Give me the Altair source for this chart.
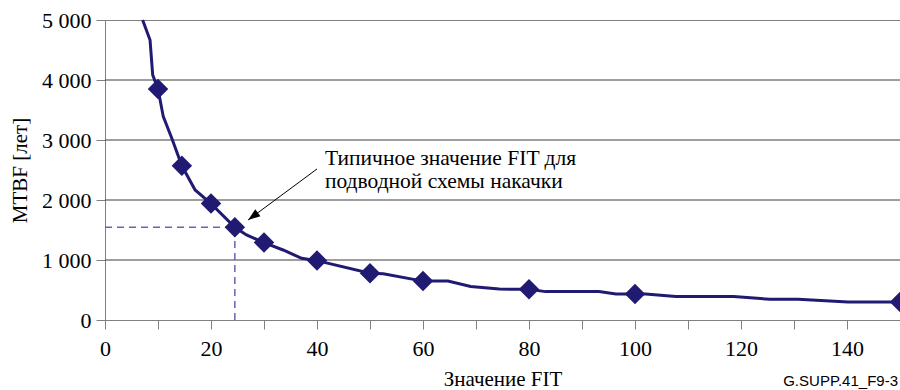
import altair as alt
import pandas as pd

# MTBF curve versus FIT value (vertices of the plotted line)
curve_fit = [7.1, 8.5, 9.0, 10, 11.0, 12.6, 14.5, 17.0, 20, 24.5, 26.7, 30, 33.6, 37.1,
             40, 50, 52.5, 60, 64.7, 69, 74.4, 80, 83.1, 93.2, 96.4, 100, 102, 107.7,
             118.6, 125.4, 130.8, 140.2, 148.1, 150]
curve_mtbf = [5000, 4667, 4083, 3850, 3389, 3028, 2570, 2167, 1940, 1545, 1417, 1290, 1167, 1028,
              990, 780, 769, 648, 648, 560, 516, 511, 473, 473, 434, 434, 434, 390,
              390, 346, 346, 302, 302, 302]

# Marked points
marker_fit = [10, 14.5, 20, 24.5, 30, 40, 50, 60, 80, 100, 150]
marker_mtbf = [3850, 2570, 1940, 1545, 1290, 990, 780, 648, 511, 434, 302]

# Typical FIT value for a submerged pump scheme
typical_fit = 24.5
typical_mtbf = 1545

y_grid = [1000, 2000, 3000, 4000]
y_ticks = [0, 1000, 2000, 3000, 4000, 5000]
x_ticks = list(range(0, 151, 10))

note_lines = ["Типичное значение FIT для", "подводной схемы накачки"]
note_fit = 41.5
note_mtbf = [2583, 2200]
arrow_start = (40.0, 2517)
arrow_tip = (27.0, 1667)

source_tag = "G.SUPP.41_F9-3"

LINE_COLOR = "#211a72"
DASH_COLOR = "#6b62b5"
AXIS_GRAY = "#808080"
SERIF = "Liberation Serif"

x_scale = alt.Scale(domain=[0, 150], nice=False, zero=False)
y_scale = alt.Scale(domain=[0, 5000], nice=False)

curve_df = pd.DataFrame({"fit": curve_fit, "mtbf": curve_mtbf, "order": range(len(curve_fit))})
marker_df = pd.DataFrame({"fit": marker_fit, "mtbf": marker_mtbf})
grid_df = pd.DataFrame({"x": [0] * len(y_grid), "x2": [150] * len(y_grid), "mtbf": y_grid})
dash_df = pd.DataFrame({
    "x": [0, typical_fit], "x2": [typical_fit, typical_fit],
    "y": [typical_mtbf, 0], "y2": [typical_mtbf, typical_mtbf],
})
arrow_df = pd.DataFrame({"x": [arrow_start[0]], "y": [arrow_start[1]],
                         "x2": [arrow_tip[0]], "y2": [arrow_tip[1]]})
tip_df = pd.DataFrame({"x": [arrow_tip[0]], "y": [arrow_tip[1]]})
note_df = pd.DataFrame({"x": [note_fit] * len(note_lines), "y": note_mtbf, "text": note_lines})
tag_df = pd.DataFrame({"text": [source_tag]})

x_axis = alt.Axis(
    values=x_ticks,
    labelExpr="datum.value % 20 === 0 ? datum.label : ''",
    grid=False, tickSize=9, tickColor=AXIS_GRAY, domainColor=AXIS_GRAY,
    labelFont=SERIF, labelFontSize=22, labelColor="black",
    labelBaseline="alphabetic", labelPadding=26, labelFlush=False, labelOverlap=False,
    title="Значение FIT", titleFont=SERIF, titleFontSize=21, titleFontWeight="normal",
    titleColor="black", titleY=65, titleBaseline="alphabetic",
)
y_axis = alt.Axis(
    values=y_ticks,
    labelExpr="replace(format(datum.value, ','), ',', ' ')",
    grid=False, tickSize=9, tickColor=AXIS_GRAY, domainColor=AXIS_GRAY,
    labelFont=SERIF, labelFontSize=22, labelColor="black", labelPadding=5,
    labelFlush=False, labelOverlap=False,
    title="MTBF [лет]", titleFont=SERIF, titleFontSize=21, titleFontWeight="normal",
    titleColor="black", titleX=-85, titleY=150, titleAngle=270,
    titleAlign="center", titleBaseline="middle",
)


def X(field):
    return alt.X(field, type="quantitative", scale=x_scale, axis=x_axis)


def Y(field):
    return alt.Y(field, type="quantitative", scale=y_scale, axis=y_axis)


grid = alt.Chart(grid_df).mark_rule(color="#3c3c3c", strokeWidth=1).encode(
    x=X("x"), x2="x2", y=Y("mtbf")
)

dashes = alt.Chart(dash_df).mark_rule(color=DASH_COLOR, strokeWidth=1.5, strokeDash=[7, 5]).encode(
    x=X("x"), x2="x2", y=Y("y"), y2="y2",
)

line = alt.Chart(curve_df).mark_line(color=LINE_COLOR, strokeWidth=3).encode(
    x=X("fit"), y=Y("mtbf"), order="order:Q",
)

markers = alt.Chart(marker_df).mark_point(
    shape="diamond", filled=True, size=420, opacity=1, color=LINE_COLOR
).encode(x=X("fit"), y=Y("mtbf"))

arrow = alt.Chart(arrow_df).mark_rule(color="black", strokeWidth=1).encode(
    x=X("x"), x2="x2", y=Y("y"), y2="y2",
)

arrow_head = alt.Chart(tip_df).mark_point(
    shape="M0,0L-0.5,1.4L0.5,1.4Z", filled=True, size=300, opacity=1,
    color="black", angle=233.6,
).encode(x=X("x"), y=Y("y"))

note = alt.Chart(note_df).mark_text(
    align="left", baseline="alphabetic", font=SERIF, fontSize=21.5, color="black"
).encode(x=X("x"), y=Y("y"), text="text:N")

tag = alt.Chart(tag_df).mark_text(
    align="right", baseline="alphabetic", font="Liberation Sans", fontSize=15, color="black"
).encode(x=alt.value(793), y=alt.value(366), text="text:N")

chart = (
    alt.layer(grid, dashes, line, markers, arrow, arrow_head, note, tag)
    .properties(
        width=795, height=300,
        padding={"left": 105, "top": 20, "right": 0, "bottom": 70},
        autosize=alt.AutoSizeParams(type="none"),
        background="white",
    )
    .configure(font=SERIF)
    .configure_view(stroke=AXIS_GRAY, strokeWidth=1)
    .configure_axis(labelFont=SERIF, titleFont=SERIF)
)

chart.save("out.html", embed_options={"renderer": "svg", "actions": False})
